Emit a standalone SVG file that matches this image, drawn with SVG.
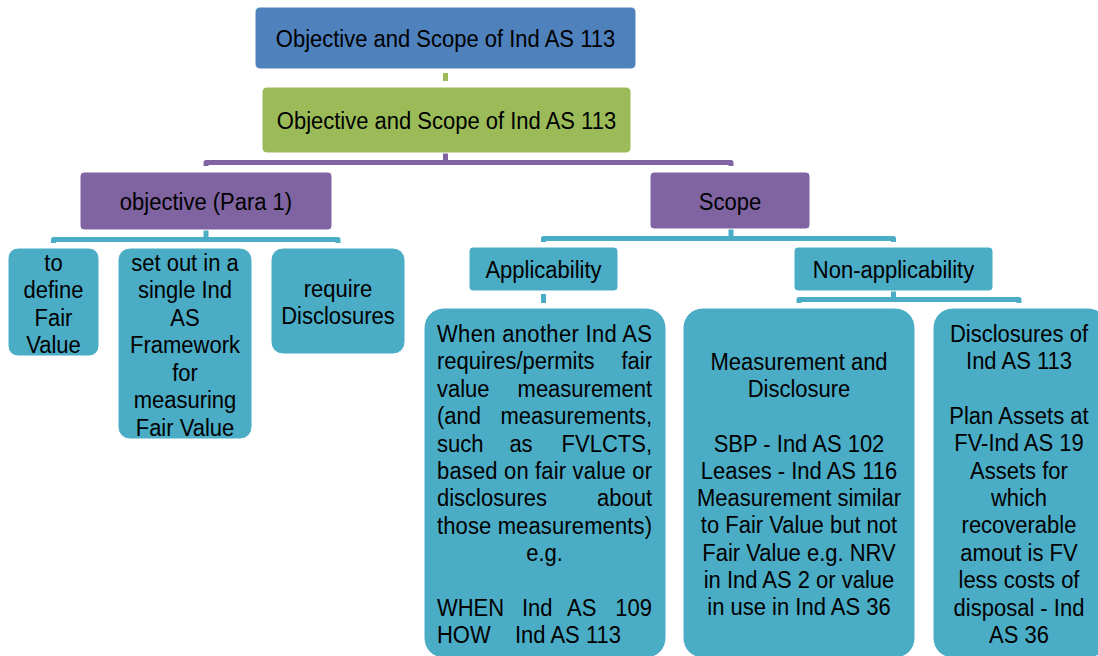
<svg xmlns="http://www.w3.org/2000/svg" width="1098" height="656" viewBox="0 0 1098 656">
<style>
text{font-family:"Liberation Sans",Arial,sans-serif;font-size:22px;fill:#000;}
.c{text-anchor:middle;}
.e{text-anchor:end;}
.blue{fill:#4F81BD;}
.green{fill:#9BBB59;}
.purple{fill:#8064A2;}
.teal{fill:#4BACC6;}
.box{stroke:#ffffff;stroke-width:1;}
.cp{fill:none;stroke:#8064A2;stroke-width:5;stroke-linejoin:round;}
.ct{fill:none;stroke:#4BACC6;stroke-width:5;stroke-linejoin:round;}
.cg{fill:none;stroke:#9BBB59;stroke-width:5;}
</style>
<rect width="1098" height="656" fill="#ffffff"/>
<g id="connectors">
<line class="cg" x1="445.5" y1="73" x2="445.5" y2="81"/>
<line class="cp" x1="445.5" y1="153" x2="445.5" y2="162"/>
<path class="cp" d="M206,166 V162.5 H731 V166"/>
<line class="ct" x1="206" y1="230" x2="206" y2="239"/>
<path class="ct" d="M53.5,243 V239.5 H338 V243"/>
<line class="ct" x1="731" y1="229" x2="731" y2="238"/>
<path class="ct" d="M543.5,242 V238.5 H893.5 V242"/>
<line class="ct" x1="543.5" y1="294" x2="543.5" y2="303"/>
<line class="ct" x1="893.5" y1="291" x2="893.5" y2="299"/>
<path class="ct" d="M799,303 V299.5 H1019 V303"/>
</g>
<g id="n-root">
<rect class="box blue" x="255" y="7" width="381" height="62" rx="5"/>
<text class="c" transform="translate(0,46.5) scale(1,1.1)" x="445.5" y="0">Objective and Scope of Ind AS 113</text>
</g>
<g id="n-main">
<rect class="box green" x="262" y="87" width="369" height="66" rx="5"/>
<text class="c" transform="translate(0,128.5) scale(1,1.1)" x="446.5" y="0">Objective and Scope of Ind AS 113</text>
</g>
<g id="n-objective">
<rect class="box purple" x="80" y="172" width="252" height="58" rx="4"/>
<text class="c" transform="translate(0,209.5) scale(1,1.1)" x="206" y="0">objective (Para 1)</text>
</g>
<g id="n-scope">
<rect class="box purple" x="650" y="172" width="160" height="57" rx="4"/>
<text class="c" transform="translate(0,209.5) scale(1,1.1)" x="730" y="0">Scope</text>
</g>
<g id="n-define">
<rect class="box teal" x="8" y="248" width="91" height="108" rx="10"/>
<text class="c" transform="translate(0,271) scale(1,1.1)"><tspan x="53.5" y="0">to</tspan><tspan x="53.5" y="25">define</tspan><tspan x="53.5" y="50">Fair</tspan><tspan x="53.5" y="75">Value</tspan></text>
</g>
<g id="n-setout">
<rect class="box teal" x="118" y="248" width="134" height="191" rx="12"/>
<text class="c" transform="translate(0,271) scale(1,1.1)"><tspan x="185" y="0">set out in a</tspan><tspan x="185" y="25">single Ind</tspan><tspan x="185" y="50">AS</tspan><tspan x="185" y="75">Framework</tspan><tspan x="185" y="100">for</tspan><tspan x="185" y="125">measuring</tspan><tspan x="185" y="150">Fair Value</tspan></text>
</g>
<g id="n-require">
<rect class="box teal" x="271" y="248" width="134" height="106" rx="12"/>
<text class="c" transform="translate(0,296.5) scale(1,1.1)"><tspan x="338" y="0">require</tspan><tspan x="338" y="25">Disclosures</tspan></text>
</g>
<g id="n-applicability">
<rect class="box teal" x="469" y="247" width="149" height="44" rx="4"/>
<text class="c" transform="translate(0,277.5) scale(1,1.1)" x="543.5" y="0">Applicability</text>
</g>
<g id="n-nonapplicability">
<rect class="box teal" x="794" y="247" width="199" height="44" rx="4"/>
<text class="c" transform="translate(0,277.5) scale(1,1.1)" x="893.5" y="0">Non-applicability</text>
</g>
<g id="n-when">
<rect class="box teal" x="424" y="308" width="242" height="350" rx="20"/>
<text transform="translate(0,342) scale(1,1.1)" x="437" y="0" textLength="215" lengthAdjust="spacing">When another Ind AS</text>
<text transform="translate(0,369.4) scale(1,1.1)"><tspan x="437" y="0">requires/permits</tspan><tspan class="e" x="652" y="0">fair</tspan></text>
<text transform="translate(0,396.7) scale(1,1.1)"><tspan x="437" y="0">value</tspan><tspan class="e" x="652" y="0">measurement</tspan></text>
<text transform="translate(0,424.1) scale(1,1.1)"><tspan x="437" y="0">(and</tspan><tspan class="e" x="652" y="0">measurements,</tspan></text>
<text transform="translate(0,451.5) scale(1,1.1)"><tspan x="437" y="0">such</tspan><tspan class="c" x="521" y="0">as</tspan><tspan class="e" x="652" y="0">FVLCTS,</tspan></text>
<text transform="translate(0,478.8) scale(1,1.1)" x="437" y="0" textLength="215" lengthAdjust="spacing">based on fair value or</text>
<text transform="translate(0,506.2) scale(1,1.1)"><tspan x="437" y="0">disclosures</tspan><tspan class="e" x="652" y="0">about</tspan></text>
<text transform="translate(0,533.5) scale(1,1.1)" x="437" y="0" textLength="215" lengthAdjust="spacing">those measurements)</text>
<text class="c" transform="translate(0,560.9) scale(1,1.1)" x="544.5" y="0">e.g.</text>
<text transform="translate(0,615.6) scale(1,1.1)"><tspan x="437" y="0">WHEN</tspan><tspan x="522" y="0">Ind</tspan><tspan x="567" y="0">AS</tspan><tspan class="e" x="652" y="0">109</tspan></text>
<text transform="translate(0,643) scale(1,1.1)"><tspan x="437" y="0">HOW</tspan><tspan x="515" y="0">Ind AS 113</tspan></text>
</g>
<g id="n-measurement">
<rect class="box teal" x="683" y="308" width="232" height="350" rx="20"/>
<text class="c" transform="translate(0,370) scale(1,1.1)"><tspan x="799" y="0">Measurement and</tspan><tspan x="799" y="24.73">Disclosure</tspan><tspan x="799" y="74.27">SBP - Ind AS 102</tspan><tspan x="799" y="99">Leases - Ind AS 116</tspan><tspan x="799" y="123.7">Measurement similar</tspan><tspan x="799" y="148.5">to Fair Value but not</tspan><tspan x="799" y="173.2">Fair Value e.g. NRV</tspan><tspan x="799" y="198">in Ind AS 2 or value</tspan><tspan x="799" y="222.7">in use in Ind AS 36</tspan></text>
</g>
<g id="n-disclosures">
<rect class="box teal" x="933" y="308" width="175" height="350" rx="20"/>
<text class="c" transform="translate(0,342) scale(1,1.1)"><tspan x="1019" y="0">Disclosures of</tspan><tspan x="1019" y="24.87">Ind AS 113</tspan><tspan x="1019" y="74.62">Plan Assets at</tspan><tspan x="1019" y="99.5">FV-Ind AS 19</tspan><tspan x="1019" y="124.4">Assets for</tspan><tspan x="1019" y="149.2">which</tspan><tspan x="1019" y="174.1">recoverable</tspan><tspan x="1019" y="199">amout is FV</tspan><tspan x="1019" y="223.9">less costs of</tspan><tspan x="1019" y="248.7">disposal - Ind</tspan><tspan x="1019" y="273.6">AS 36</tspan></text>
</g>
</svg>
